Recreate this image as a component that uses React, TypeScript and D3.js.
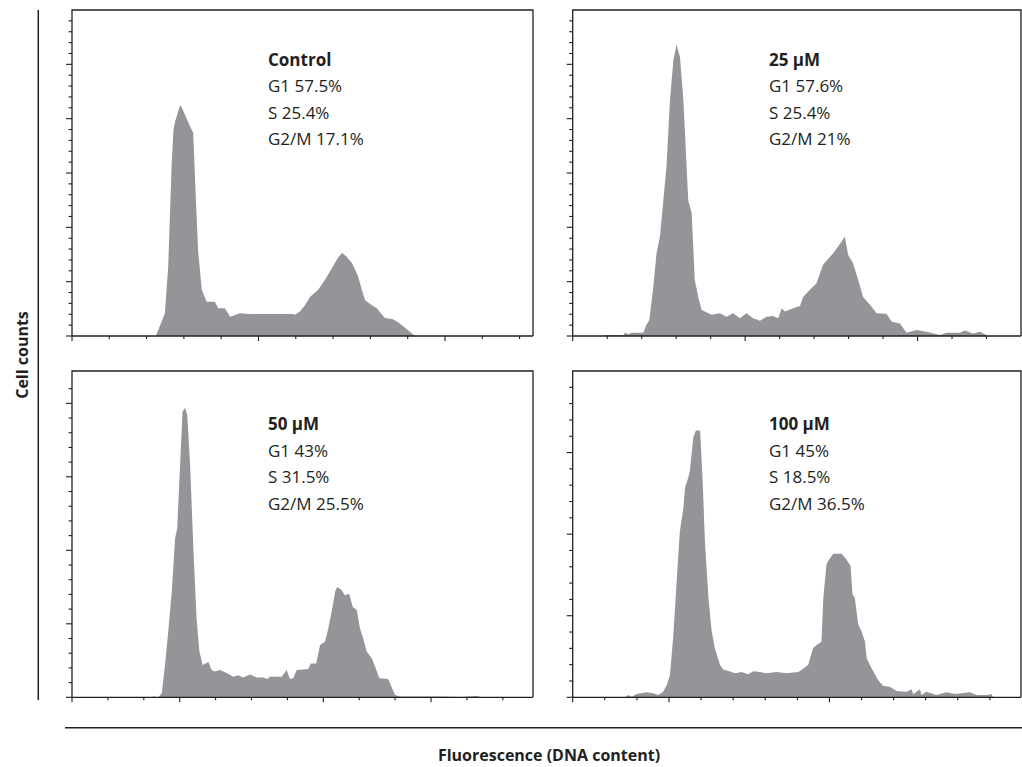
import React from 'react';
import * as d3 from 'd3';

// histogram data: [channel, cell count]
const controlCounts = [
  [22.5, 0], [24.9, 4.2], [25.8, 12.9], [26.7, 31.2], [27.2, 37.9], [27.6, 39.4], [29.0, 42.5],
  [29.4, 42.1], [32.1, 37.9], [32.5, 37.4], [33.0, 28.7], [33.8, 15.8], [34.8, 8.5], [36.1, 6.3],
  [38.3, 6.3], [39.2, 5.1], [41.0, 5.1], [42.4, 3.55], [45.0, 4.2], [47.7, 4.05], [53.9, 4.05],
  [59.2, 4.05], [59.8, 3.9], [61.1, 4.5], [62.5, 5.7], [63.8, 7.2], [66.0, 8.5], [67.8, 10.3],
  [69.7, 12.5], [71.3, 14.4], [72.4, 15.3], [73.5, 14.7], [75.1, 13.4], [76.7, 11.0], [77.7, 8.5],
  [78.6, 6.6], [80.3, 5.7], [81.7, 5.1], [83.9, 3.3], [86.1, 3.1], [87.9, 2.3], [90.6, 0.8], [92.0, 0],
];

const counts25 = [
  [8.9, 0], [8.9, 0.2], [14.7, 0.2], [15.2, 0.6], [16.1, 0.3], [17.1, 0.6], [20.5, 0.6], [21.3, 2.0],
  [22.2, 2.9], [23.4, 9.1], [24.3, 15.2], [25.3, 18.3], [27.2, 31.2], [28.2, 43.4], [29.2, 50.8],
  [30.1, 53.6], [31.1, 51.4], [32.1, 43.4], [33.5, 25.0], [34.5, 22.6], [35.4, 10.3], [36.4, 7.2],
  [37.4, 4.8], [40.3, 3.9], [42.7, 4.2], [44.6, 3.55], [46.5, 4.2], [48.5, 3.25], [50.4, 4.2],
  [52.3, 3.25], [54.3, 2.8], [56.2, 3.55], [58.1, 3.7], [59.6, 3.25], [60.6, 5.1], [61.5, 4.5],
  [63.9, 5.1], [65.9, 5.5], [66.8, 7.2], [68.8, 8.5], [70.7, 9.7], [72.6, 13.1], [75.5, 15.2],
  [78.0, 17.4], [78.9, 18.3], [79.9, 14.9], [81.3, 13.4], [82.8, 10.3], [84.2, 7.2], [86.7, 5.4],
  [88.1, 4.2], [91.0, 4.1], [92.5, 2.6], [94.9, 2.3], [96.8, 0.6], [99.7, 1.1], [102.6, 0.8],
  [106.5, 0.2], [108.4, 0.6], [112.3, 0.6], [113.7, 1.0], [116.1, 0.45], [118.1, 0.8], [120.5, 0],
];

const counts50 = [
  [22.0, 0], [22.6, 0.1], [24.0, 0], [25.0, 0.54], [25.9, 4.4], [26.8, 8.9], [27.8, 14.4],
  [28.7, 21.6], [29.3, 23.0], [30.1, 31.6], [30.8, 38.9], [31.5, 39.4], [32.1, 38.4], [32.9, 31.6],
  [33.8, 20.3], [34.7, 10.7], [35.5, 6.2], [36.4, 4.4], [38.0, 4.8], [38.9, 3.7], [39.8, 3.5],
  [41.2, 3.7], [43.1, 3.3], [44.9, 2.8], [46.3, 3.0], [47.7, 2.7], [49.6, 3.1], [51.4, 2.7],
  [53.3, 2.7], [54.4, 2.5], [55.1, 2.8], [58.4, 2.8], [59.8, 3.7], [60.7, 2.5], [61.6, 2.6],
  [62.6, 3.7], [65.8, 3.85], [66.5, 4.6], [68.0, 4.6], [69.1, 7.1], [70.5, 7.6], [71.4, 9.4],
  [72.3, 11.6], [73.3, 14.4], [73.9, 15.0], [75.1, 14.6], [76.0, 13.9], [77.2, 14.1], [78.2, 12.3],
  [79.3, 11.9], [80.2, 9.4], [81.1, 8.0], [82.1, 6.2], [83.5, 5.3], [84.4, 4.2], [85.6, 2.6],
  [88.1, 2.5], [89.0, 1.4], [90.0, 0.3], [91.4, 0.1], [102.5, 0.1], [108.1, 0.05], [112.7, 0.18],
  [114.1, 0],
];

const counts100 = [
  [16.3, 0], [17.3, 0.28], [18.4, 0.08], [19.9, 0.4], [23.0, 0.61], [25.1, 0.5], [26.7, 0.28],
  [28.2, 0.69], [29.3, 1.5], [30.3, 2.7], [31.3, 7.3], [32.4, 14.2], [33.4, 20.4], [34.5, 23.2],
  [35.0, 25.7], [36.0, 26.9], [36.5, 27.7], [37.6, 31.9], [38.4, 32.7], [39.7, 32.7], [40.5, 26.5],
  [41.2, 19.1], [42.3, 12.2], [43.3, 8.1], [44.3, 6.0], [45.9, 4.0], [46.9, 3.4], [49.0, 3.15],
  [50.6, 2.95], [52.6, 3.1], [54.7, 2.83], [56.3, 3.2], [58.3, 3.1], [60.4, 2.95], [63.5, 3.1],
  [66.7, 2.95], [70.3, 3.1], [71.8, 3.5], [73.4, 4.0], [74.9, 6.0], [76.0, 6.4], [77.5, 6.8],
  [78.1, 12.2], [79.1, 16.3], [79.6, 16.7], [81.2, 17.6], [83.8, 17.6], [85.3, 16.9], [86.6, 16.1],
  [87.2, 12.6], [87.9, 12.2], [89.0, 8.9], [90.0, 8.1], [91.1, 6.8], [91.6, 4.8], [93.1, 3.6],
  [95.2, 2.1], [96.8, 1.4], [98.8, 1.3], [100.9, 0.77], [104.0, 0.69], [105.6, 1.0], [106.1, 0.36],
  [108.2, 1.0], [108.7, 0.28], [110.2, 0.69], [113.3, 0.28], [116.5, 0.61], [119.1, 0.4],
  [123.8, 0.61], [125.8, 0.28], [129.5, 0.28], [130.5, 0.4], [131.0, 0],
];

const panelTitles = ['Control', '25 µM', '50 µM', '100 µM'];
const g1Pct = [57.5, 57.6, 43, 45];
const sPct = [25.4, 25.4, 31.5, 18.5];
const g2mPct = [17.1, 21, 25.5, 36.5];
const yAxisTitle = 'Cell counts';
const xAxisTitle = 'Fluorescence (DNA content)';

const series = [controlCounts, counts25, counts50, counts100];

// panel frames and axis extents
const panels = [
  { left: 72, right: 533, top: 10, bottom: 336, xMax: 123.6, yMax: 60, xMajor: [0, 50, 100], textX: 268, textY: 65.5 },
  { left: 572.7, right: 1021, top: 10, bottom: 336, xMax: 130, yMax: 60, xMajor: [0, 50, 100], textX: 769, textY: 65.5 },
  { left: 72, right: 533, top: 371, bottom: 697.3, xMax: 128.4, yMax: 44.4, xMajor: [0, 30, 70, 100], textX: 268, textY: 430 },
  { left: 572.7, right: 1021, top: 371, bottom: 697.3, xMax: 139.7, yMax: 40, xMajor: [0, 30, 80], textX: 769, textY: 430 },
];

const ink = '#231f20';
const fillGrey = '#939598';
const font = '"Open Sans", "Noto Sans", sans-serif';

const Panel = ({ p, data, i }) => {
  const x = d3.scaleLinear().domain([0, p.xMax]).range([p.left, p.right]);
  const y = d3.scaleLinear().domain([0, p.yMax]).range([p.bottom, p.top]);
  const area = d3.area()
    .x(d => x(d[0]))
    .y0(p.bottom)
    .y1(d => y(d[1]));

  const xTicks = d3.range(0, p.xMax - 1, 10);
  const yTicks = d3.range(0, p.yMax - 0.5, 2);
  const lines = [
    { t: panelTitles[i], bold: true },
    { t: `G1 ${g1Pct[i]}%` },
    { t: `S ${sPct[i]}%` },
    { t: `G2/M ${g2mPct[i]}%` },
  ];

  return (
    <g>
      <path d={area(data)} fill={fillGrey} />
      {/* frame */}
      <path
        d={`M${p.left},${p.bottom}V${p.top}H${p.right}V${p.bottom}`}
        fill="none" stroke={ink} strokeWidth={1.3}
      />
      <line x1={p.left} x2={p.right} y1={p.bottom} y2={p.bottom} stroke={ink} strokeWidth={1.3} />
      {xTicks.map(t => {
        const major = p.xMajor.includes(Math.round(t));
        return (
          <line key={'x' + t} x1={x(t)} x2={x(t)} y1={p.bottom} y2={p.bottom + (major ? 5 : 3)}
            stroke={ink} strokeWidth={1.1} />
        );
      })}
      {yTicks.map(t => {
        const major = Math.round(t) % 10 === 0;
        return (
          <line key={'y' + t} x1={p.left - (major ? 6 : 3.5)} x2={p.left} y1={y(t)} y2={y(t)}
            stroke={ink} strokeWidth={1.1} />
        );
      })}
      {lines.map((l, j) => (
        <text key={j} x={p.textX} y={p.textY + j * 26.6} fontFamily={font} fontSize={17}
          fontWeight={l.bold ? 700 : 400} fill={ink}>
          {l.t}
        </text>
      ))}
    </g>
  );
};

export default function App() {
  return (
    <svg width={1022} height={767} style={{ position: 'absolute', left: 0, top: 0, background: '#fff' }}>
      <rect width={1022} height={767} fill="#fff" />
      {panels.map((p, i) => (
        <Panel key={i} p={p} data={series[i]} i={i} />
      ))}
      {/* outer axes */}
      <line x1={38.3} x2={38.3} y1={10} y2={700} stroke={ink} strokeWidth={1.5} />
      <line x1={65} x2={1022} y1={727.7} y2={727.7} stroke={ink} strokeWidth={1.5} />
      <text transform="translate(27.5,355) rotate(-90)" textAnchor="middle" fontFamily={font}
        fontSize={16} fontWeight={700} fill={ink}>
        {yAxisTitle}
      </text>
      <text x={549} y={761} textAnchor="middle" fontFamily={font} fontSize={16} fontWeight={700} fill={ink}>
        {xAxisTitle}
      </text>
    </svg>
  );
}
